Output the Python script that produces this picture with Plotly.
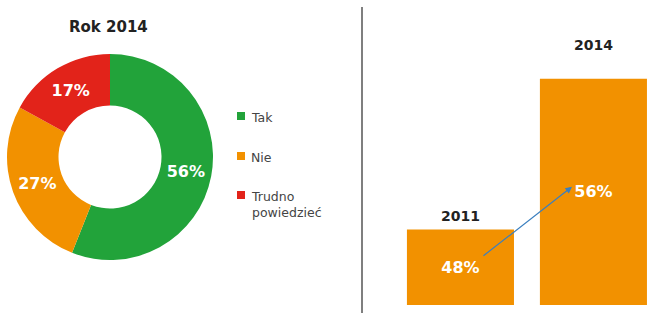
import plotly.graph_objects as go

# Donut data
pie_labels = ["Tak", "Nie", "Trudno<br>powiedzieć"]
pie_values = [56, 27, 17]
pie_colors = ["#22a33a", "#f29100", "#e2231a"]

# Bar data
bar_years = ["2011", "2014"]
bar_values = [48, 56]
bar_x = [0, 1]

FONT = "DejaVu Sans"
W, H = 655, 319

fig = go.Figure()

fig.add_trace(go.Pie(
    labels=pie_labels, values=pie_values,
    marker=dict(colors=pie_colors, line=dict(width=0)),
    hole=0.5, sort=False, direction="clockwise", rotation=0,
    texttemplate="%{value}%", textposition="inside", insidetextorientation="horizontal",
    textfont=dict(family=FONT, size=16, color="white", weight="bold"),
    domain=dict(x=[7/W, 213/W], y=[(H-260)/H, (H-54)/H]),
    showlegend=False, hoverinfo="label+value",
))

fig.add_trace(go.Bar(
    x=bar_x, y=[v - 44 for v in bar_values], base=44,
    width=0.805, marker=dict(color="#f29100", line=dict(width=0)),
    text=[f"{v}%" for v in bar_values], textposition="inside",
    insidetextanchor="middle",
    textfont=dict(family=FONT, size=16, color="white", weight="bold"),
    xaxis="x", yaxis="y", showlegend=False,
))

fig.update_layout(
    width=W, height=H, margin=dict(l=0, r=0, t=0, b=0),
    paper_bgcolor="white", plot_bgcolor="white",
    xaxis=dict(domain=[380/W, 1], range=[-0.605, 1.463], visible=False, fixedrange=True),
    yaxis=dict(domain=[(H-305)/H, (H-41)/H], range=[44, 58], visible=False, fixedrange=True),
    font=dict(family=FONT),
)

annotations = []
# Title
annotations.append(dict(x=108/W, y=1 - 27/H, xref="paper", yref="paper", text="<b>Rok 2014</b>",
                        showarrow=False, font=dict(family=FONT, size=15, color="#222222"),
                        xanchor="center", yanchor="middle"))
# Legend
leg_y = [116, 156, 195]
for lab, col, yy in zip(pie_labels, pie_colors, leg_y):
    fig.add_shape(type="rect", xref="paper", yref="paper",
                  x0=237/W, x1=245/W, y0=1 - (yy + 4)/H, y1=1 - (yy - 4)/H,
                  fillcolor=col, line=dict(width=0))
    annotations.append(dict(x=249/W, y=1 - (yy - 8)/H, xref="paper", yref="paper", text=lab,
                            showarrow=False, align="left",
                            font=dict(family=FONT, size=12.5, color="#444444"),
                            xanchor="left", yanchor="top"))
# Year labels above bars
year_shifts = [4, 24]
for xv, yr, v, ys in zip(bar_x, bar_years, bar_values, year_shifts):
    annotations.append(dict(x=xv, y=v, xref="x", yref="y", text=f"<b>{yr}</b>",
                            showarrow=False, yshift=ys, yanchor="bottom",
                            font=dict(family=FONT, size=14, color="#222222")))
# Arrow
annotations.append(dict(x=0.839, y=50.27, ax=0.162, ay=46.55, xref="x", yref="y",
                        axref="x", ayref="y", text="", showarrow=True,
                        arrowhead=2, arrowsize=1.1, arrowwidth=1.2, arrowcolor="#3a7fbf"))
fig.update_layout(annotations=annotations)

# Divider line
fig.add_shape(type="line", xref="paper", yref="paper",
              x0=362/W, x1=362/W, y0=1 - 313/H, y1=1 - 7/H,
              line=dict(color="#555555", width=1.5))

fig.write_html("out.html")
